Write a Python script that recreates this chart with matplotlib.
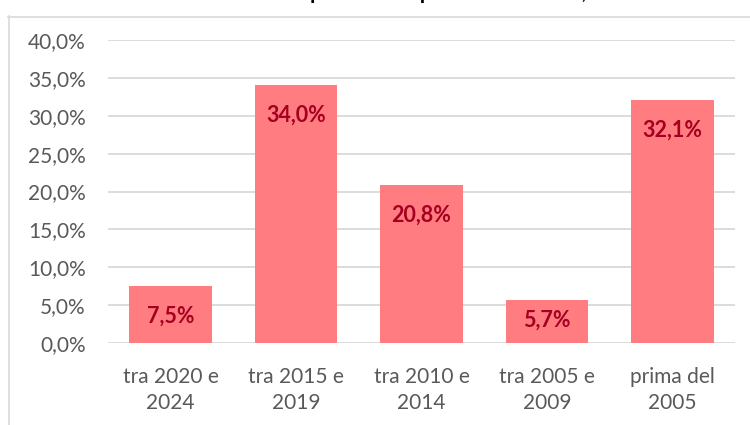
import matplotlib.pyplot as plt
from matplotlib.lines import Line2D

# Data
categories = ['tra 2020 e\n2024', 'tra 2015 e\n2019', 'tra 2010 e\n2014', 'tra 2005 e\n2009', 'prima del\n2005']
values = [7.5, 34.0, 20.8, 5.7, 32.1]
yticks = [0, 5, 10, 15, 20, 25, 30, 35, 40]
title = "Anno di costruzione dell'impianto di depurazione attuale, anno 2024"

bar_color = '#FF7C80'
label_color = '#A50021'
text_gray = '#595959'
grid_gray = '#D9D9D9'

plt.rcParams['font.family'] = ['Lato', 'DejaVu Sans']

W, H = 750, 425
fig = plt.figure(figsize=(W / 100, H / 100), dpi=100)

# chart area frame (partly cut off, like the source screenshot)
fig.add_artist(Line2D([8.5 / W, 8.5 / W], [0, 1 - 16 / H], color=grid_gray, lw=1.2))
fig.add_artist(Line2D([8 / W, 1], [1 - 16.5 / H, 1 - 16.5 / H], color=grid_gray, lw=1.2))

# title, almost entirely outside the top edge
fig.text(0.5, 1 + 1 / H, title, ha='center', va='baseline',
         fontsize=15, fontweight='bold', color='black')

ax = fig.add_axes([108 / W, 1 - 343 / H, (735 - 108) / W, (343 - 40) / H])
x = range(len(categories))
bars = ax.bar(x, values, width=0.66, color=bar_color, zorder=2)

ax.set_ylim(0, 40)
ax.set_xlim(-0.5, len(categories) - 0.5)
ax.set_yticks(yticks)
ax.set_yticklabels([f'{v:.1f}%'.replace('.', ',') for v in yticks])
ax.set_xticks(list(x))
ax.set_xticklabels(categories, linespacing=1.42)
ax.tick_params(axis='both', length=0, labelsize=15, labelcolor=text_gray)
ax.tick_params(axis='y', pad=16)
ax.tick_params(axis='x', pad=17)
for s in ax.spines.values():
    s.set_visible(False)
ax.yaxis.grid(True, color=grid_gray, lw=1.3, zorder=0)

# data labels, inside end
px_per_unit = (343 - 40) / 40
for xi, v in zip(x, values):
    h = v * px_per_unit
    off = min(30, h - 23)
    ax.annotate(f'{v:.1f}%'.replace('.', ','), (xi, v), xytext=(0, -off * 0.72),
                textcoords='offset points', ha='center', va='center',
                fontsize=15.5, fontweight='bold', color=label_color, zorder=3)

fig.savefig('out.png', dpi=100)
